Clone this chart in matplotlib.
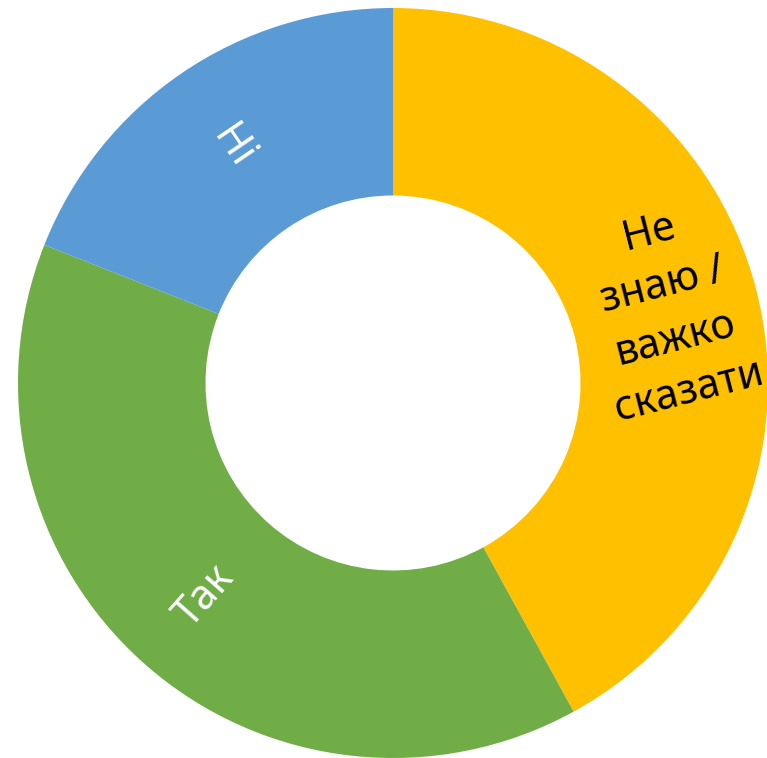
import numpy as np
import matplotlib.pyplot as plt

# data
labels = ["Не\nзнаю /\nважко\nсказати", "Так", "Ні"]
values = [42, 39, 19]
colors = ["#FFC000", "#70AD47", "#5B9BD5"]
text_colors = ["black", "white", "white"]

W, H = 767, 758
cx, cy = 393, 383  # centre in pixels from top-left
R = 375

fig = plt.figure(figsize=(W / 100, H / 100), dpi=100)
ax = fig.add_axes([0, 0, 1, 1])

wedges, _ = ax.pie(values, colors=colors, startangle=90, counterclock=False,
                   radius=R, center=(0, 0), frame=True,
                   wedgeprops=dict(width=R / 2, edgecolor="none"))
ax.set_xlim(-cx, W - cx)
ax.set_ylim(-(H - cy), cy)
ax.set_aspect("equal")
ax.axis("off")

# labels along the radius of each slice
r_mid = R * 0.76
for w, lab, tc in zip(wedges, labels, text_colors):
    ang = (w.theta1 + w.theta2) / 2
    x = r_mid * np.cos(np.radians(ang))
    y = r_mid * np.sin(np.radians(ang))
    rot = ang
    if rot > 90:
        rot -= 180
    if rot < -90:
        rot += 180
    ax.text(x, y, lab, color=tc, fontsize=29.5, family="Noto Sans",
            rotation=rot, rotation_mode="anchor", ha="center", va="center",
            multialignment="center", linespacing=1.4)

fig.savefig("out.png", dpi=100)
